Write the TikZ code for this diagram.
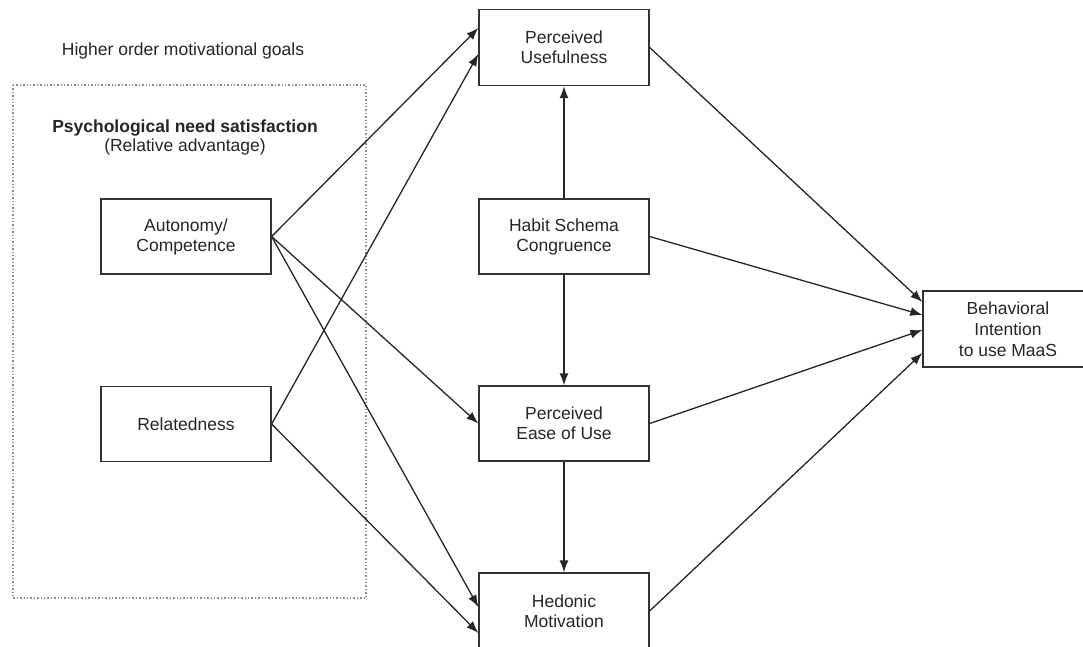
\documentclass[tikz,border=0pt]{standalone}
\usepackage{fontspec}
\setmainfont{Liberation Sans}
\usetikzlibrary{arrows.meta,calc}
\begin{document}
\begin{tikzpicture}[x=1pt,y=-1pt,
  box/.style={draw=black!80,line width=1.3pt,fill=white,minimum width=170pt,minimum height=75pt,inner sep=0pt,align=center,text=black!85,font=\fontsize{17.5}{20}\selectfont},
  arr/.style={draw=black!85,line width=1.3pt,-{Latex[length=12pt,width=9pt]}},
  lbl/.style={text=black!85,inner sep=0pt,font=\fontsize{17.5}{20}\selectfont,align=center}]
\clip (0,0) rectangle (1083,647);
\fill[white] (0,0) rectangle (1083,647);
% dotted frame
\draw[black!45,line width=1.4pt,dotted] (13,85) rectangle (366,598);
\node[lbl,anchor=base] (hog) at (183,56) {Higher order motivational goals};
\node[lbl,anchor=base,font=\fontsize{17.5}{20}\selectfont\bfseries] (psy) at (185,133) {Psychological need satisfaction};
\node[lbl,anchor=base] (rel-adv) at (185,152) {(Relative advantage)};
% boxes
\node[box] (au) at (186,236.5) {Autonomy/\\Competence};
\node[box] (rel) at (186,424) {Relatedness};
\node[box,minimum height=76pt] (pu) at (564,47.5) {Perceived\\Usefulness};
\node[box] (hs) at (564,236.5) {Habit Schema\\Congruence};
\node[box] (peou) at (564,423.5) {Perceived\\Ease of Use};
\node[box,minimum height=76pt] (hm) at (564,611) {Hedonic\\Motivation};
\node[box,minimum height=76pt,font=\fontsize{17.5}{21}\selectfont] (bi) at (1008,329) {Behavioral\\Intention\\to use MaaS};
% arrows from left
\draw[arr] (au.east) -- ([yshift=19.5pt]pu.west);
\draw[arr] (rel.east) -- ([yshift=-6.5pt]pu.west);
\draw[arr] (au.east) -- (peou.west);
\draw[arr] (au.east) -- ([yshift=4pt]hm.west);
\draw[arr] (rel.east) -- ([yshift=-22pt]hm.west);
% vertical
\draw[arr] (hs.north) -- (pu.south);
\draw[arr] (hs.south) -- (peou.north);
\draw[arr] (peou.south) -- (hm.north);
% to BI
\draw[arr] (pu.east) -- ([yshift=27pt]bi.west);
\draw[arr] (hs.east) -- ([yshift=14pt]bi.west);
\draw[arr] (peou.east) -- ([yshift=-1pt]bi.west);
\draw[arr] (hm.east) -- ([yshift=-24pt]bi.west);
\end{tikzpicture}
\end{document}
